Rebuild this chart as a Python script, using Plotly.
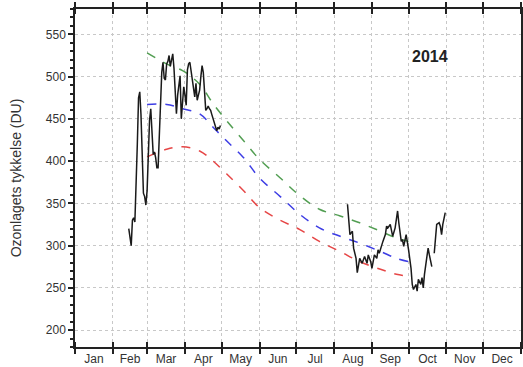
import pandas as pd
import plotly.graph_objects as go

YEAR_START = pd.Timestamp("2014-01-01")

# daily ozone, day-of-year offsets from 1 Jan
spring_doy = [44, 45, 46, 47, 48, 49, 50, 51, 52, 53, 54, 55, 56, 57, 58, 59, 60,
              61, 62, 63, 64, 65, 66, 67, 68, 69, 70, 71, 72, 73, 74, 75, 76, 77,
              78, 79, 80, 81, 82, 83, 84, 85, 86, 87, 88, 89, 90, 91, 92, 93, 94,
              95, 96, 97, 98, 99, 100, 101, 102, 103, 104, 105, 106, 107, 108, 109,
              110, 111, 112, 113, 114, 115, 116, 117, 118, 119]
spring_du = [320, 306, 300, 330, 333, 328, 365, 420, 475, 482, 455, 400, 362, 358,
             348, 365, 405, 448, 462, 435, 408, 411, 404, 392, 392, 430, 480, 505,
             517, 498, 496, 515, 518, 525, 512, 522, 527, 510, 488, 456, 478, 488,
             501, 450, 472, 488, 478, 466, 508, 515, 517, 506, 498, 482, 476, 492,
             472, 478, 484, 500, 513, 505, 485, 460, 462, 465, 462, 460, 455, 450,
             446, 438, 436, 440, 438, 442]

autumn_doy = [223, 224, 225, 226, 227, 228, 230, 231, 233, 235, 237, 239, 240, 242,
              243, 245, 247, 248, 249, 252, 254, 255, 256, 258, 259, 260, 262, 264,
              265, 267, 268, 269, 271, 272, 273, 275, 276, 277, 279, 280, 281, 283,
              284, 285, 286, 288, 289, 290, 292, 293, 294, 295, 296, 298, 299, 300,
              301, 303]
autumn_du = [349, 333, 313, 315, 317, 297, 285, 268, 285, 279, 287, 279, 289, 281,
             273, 289, 285, 295, 291, 305, 313, 323, 321, 325, 315, 311, 321, 341,
             327, 305, 307, 299, 313, 301, 295, 273, 254, 248, 254, 246, 260, 254,
             262, 250, 266, 287, 297, 289, 275, None, 291, 309, 325, 327, 323, 313,
             325, 339]

# reference curves
ref_doy = [59, 75, 88, 102, 113, 124, 138, 151, 168, 184, 200, 217, 233, 250, 263, 273]
ref_high = [528, 515, 507, 491, 468, 448, 424, 402, 380, 359, 343, 335, 327, 317, 309, 305]
ref_mean = [467, 467, 462, 456, 440, 424, 404, 380, 358, 337, 321, 311, 303, 293, 285, 281]
ref_low = [405, 414, 417, 412, 400, 385, 365, 345, 330, 319, 305, 293, 281, 272, 266, 264]

year_label = "2014"


def to_dates(doy):
    return YEAR_START + pd.to_timedelta(doy, unit="D")


fig = go.Figure()
for vals, col in [(ref_high, "#529e52"), (ref_mean, "#3d3de4"), (ref_low, "#e64646")]:
    fig.add_trace(go.Scatter(x=to_dates(ref_doy), y=vals, mode="lines",
                             line=dict(color=col, width=1.5, dash="dash", shape="spline"),
                             showlegend=False, hoverinfo="skip"))

for doy, vals in [(spring_doy, spring_du), (autumn_doy, autumn_du)]:
    fig.add_trace(go.Scatter(x=to_dates(doy), y=vals, mode="lines",
                             line=dict(color="#1a1a1a", width=1.5),
                             showlegend=False))

fig.add_annotation(text=f"<b>{year_label}</b>", xref="paper", yref="paper",
                   x=0.796, y=0.858, xanchor="center", yanchor="middle",
                   showarrow=False, font=dict(size=16, color="#222222"))

fig.update_xaxes(
    type="date", range=["2014-01-01", "2015-01-01"],
    tick0="2014-01-01", dtick="M1", tickformat="%b", ticklabelmode="period",
    ticks="inside", ticklen=5, tickcolor="#222", tickwidth=1.5,
    minor=dict(ticks="outside", dtick="M1", tick0="2014-01-01", ticklen=5,
               tickcolor="#222", showgrid=False),
    showline=True, linecolor="#222", linewidth=1.5, mirror="allticks",
    showgrid=True, gridcolor="#c8c8c8", griddash="dot", gridwidth=1,
    tickfont=dict(size=12, color="#333"), automargin=False,
)
fig.update_yaxes(
    range=[180, 580], tick0=0, dtick=50,
    ticks="outside", ticklen=5, tickcolor="#222", tickwidth=1.5,
    minor=dict(ticks="outside", dtick=10, ticklen=3, tickcolor="#222", showgrid=False),
    showline=True, linecolor="#222", linewidth=1.5, mirror="allticks",
    showgrid=True, gridcolor="#c8c8c8", griddash="dot", gridwidth=1,
    zeroline=False, automargin=False,
    tickfont=dict(size=12, color="#333"),
    title=dict(text="Ozonlagets tykkelse (DU)", font=dict(size=14, color="#333"),
               standoff=21),
)
fig.update_layout(
    width=523, height=367,
    margin=dict(l=75, r=2, t=9, b=20),
    paper_bgcolor="white", plot_bgcolor="white",
    font=dict(family="Liberation Sans, Arial, sans-serif"),
)
fig.write_html("out.html", config={"displayModeBar": False},
               post_script="document.body.style.margin='0';"
                           "document.body.style.overflow='hidden';")
